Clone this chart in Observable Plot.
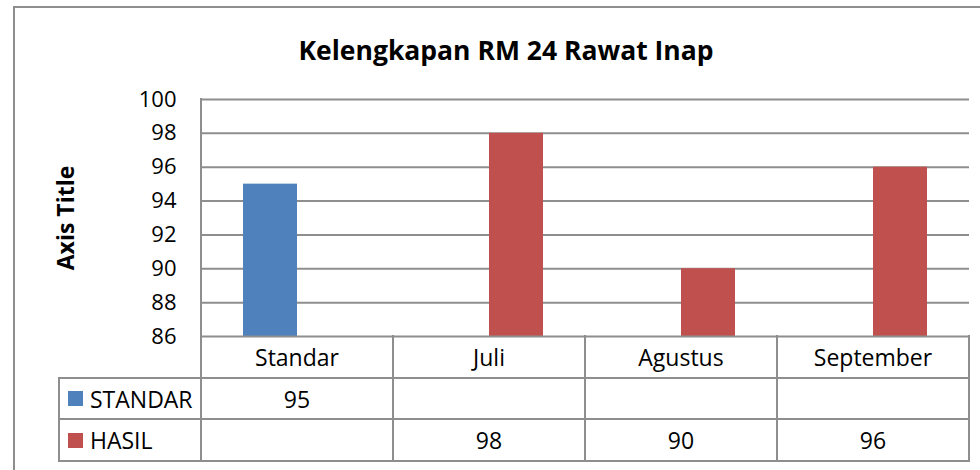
<!DOCTYPE html>
<html>
<head>
<meta charset="utf-8">
<script src="https://cdn.jsdelivr.net/npm/d3@7"></script>
<script src="https://cdn.jsdelivr.net/npm/@observablehq/plot@0.6"></script>
<style>
  html, body { margin: 0; padding: 0; background: #fff; }
  #wrap { position: relative; width: 980px; height: 470px; overflow: hidden; background: #fff; font-family: "Open Sans", Lato, sans-serif; color: #000; }
  #wrap svg { position: absolute; left: 0; top: 0; }
  .ln { position: absolute; background: #8e8e8e; }
  .txt { position: absolute; display: flex; align-items: center; justify-content: center; white-space: nowrap; font-size: 23px; }
</style>
</head>
<body>
<div id="wrap"></div>
<script>
const categories = ["Standar", "Juli", "Agustus", "September"];
const seriesNames = ["STANDAR", "HASIL"];
const standarValues = [95, null, null, null];
const hasilValues = [null, 98, 90, 96];
const yTicks = [86, 88, 90, 92, 94, 96, 98, 100];
const seriesColors = ["#4F81BD", "#C0504D"];
const titleText = "Kelengkapan RM 24 Rawat Inap";
const yTitle = "Axis Title";

const seriesValues = [standarValues, hasilValues];
const data = [];
seriesNames.forEach((s, si) => {
  categories.forEach((c, ci) => {
    const v = seriesValues[si][ci];
    if (v != null) data.push({category: c, series: s, value: v});
  });
});

const wrap = document.getElementById("wrap");

const chart = Plot.plot({
  width: 980,
  height: 470,
  marginTop: 99,
  marginBottom: 134,
  marginLeft: 200,
  marginRight: 11,
  style: {fontFamily: "'Open Sans', Lato, sans-serif", fontSize: "22px", color: "#000", background: "transparent", overflow: "visible"},
  fx: {domain: categories, padding: 0, axis: null},
  x: {domain: seriesNames, paddingInner: 0, paddingOuter: 0.748, axis: null},
  y: {domain: [yTicks[0], yTicks[yTicks.length - 1]], ticks: yTicks, tickSize: 0, tickPadding: 25, label: null},
  color: {domain: seriesNames, range: seriesColors},
  marks: [
    Plot.ruleY(yTicks.slice(1), {stroke: "#8e8e8e", strokeWidth: 2}),
    Plot.barY(data, {fx: "category", x: "series", y1: yTicks[0], y2: "value", fill: "series"}),
    Plot.ruleY([yTicks[0]], {stroke: "#8e8e8e", strokeWidth: 2})
  ]
});
wrap.appendChild(chart);

const fx = chart.scale("fx");
const y = chart.scale("y");
const bw = fx.bandwidth;
const colLeft = categories.map(c => fx.apply(c));
const plotLeft = colLeft[0];
const plotRight = colLeft[colLeft.length - 1] + bw;
const yTop = y.apply(yTicks[yTicks.length - 1]);
const yBase = y.apply(yTicks[0]);
const rowH = 41.7;
const rows = [yBase, yBase + rowH, yBase + 2 * rowH, yBase + 3 * rowH];
const legendLeft = 59;

function line(x, yy, w, h) {
  const d = document.createElement("div");
  d.className = "ln";
  d.style.left = x + "px"; d.style.top = yy + "px";
  d.style.width = w + "px"; d.style.height = h + "px";
  wrap.appendChild(d);
}
function text(str, x, yy, w, h, extra) {
  const d = document.createElement("div");
  d.className = "txt";
  d.textContent = str;
  d.style.left = x + "px"; d.style.top = yy + "px";
  d.style.width = w + "px"; d.style.height = h + "px";
  if (extra) Object.assign(d.style, extra);
  wrap.appendChild(d);
  return d;
}

// outer chart frame
line(12.5, 6, 2, 470);
line(12.5, 6, 980, 2);

// plot left edge and table grid
line(plotLeft - 1, yTop - 1, 2, rows[3] - yTop + 2);
for (let i = 1; i < rows.length; i++) line(legendLeft - 1, rows[i] - 1, plotRight - legendLeft + 2, 2);
colLeft.slice(1).forEach(x => line(x - 1, rows[0] - 1, 2, rows[3] - rows[0] + 2));
line(plotRight - 1, rows[0] - 1, 2, rows[3] - rows[0] + 2);
line(legendLeft - 1, rows[1] - 1, 2, rows[3] - rows[1] + 2);

// header labels
categories.forEach((c, i) => text(c, colLeft[i], rows[0], bw, rowH));

// series rows
seriesNames.forEach((s, si) => {
  const top = rows[si + 1];
  const sw = document.createElement("div");
  sw.style.position = "absolute";
  sw.style.left = "68px"; sw.style.top = (top + rowH / 2 - 7.5) + "px";
  sw.style.width = "15px"; sw.style.height = "15px";
  sw.style.background = seriesColors[si];
  wrap.appendChild(sw);
  text(s, 90, top, plotLeft - 90, rowH, {justifyContent: "flex-start"});
  categories.forEach((c, ci) => {
    const v = seriesValues[si][ci];
    if (v != null) text(String(v), colLeft[ci], top, bw, rowH);
  });
});

// title
text(titleText, 206, 30, 600, 40, {fontSize: "26.5px", fontWeight: "bold"});

// y axis title
text(yTitle, 65 - 80, (yTop + yBase) / 2 - 15, 160, 30, {fontSize: "23px", fontWeight: "bold", transform: "rotate(-90deg)"});
</script>
</body>
</html>
